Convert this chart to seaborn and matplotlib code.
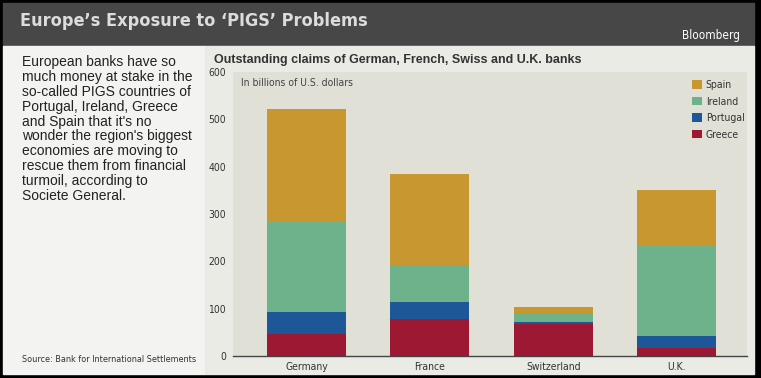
import matplotlib
matplotlib.use("Agg")
import matplotlib.pyplot as plt
from matplotlib.patches import Rectangle, Patch
from matplotlib import font_manager
import seaborn as sns
import pandas as pd

# data (billions of U.S. dollars)
countries = ["Germany", "France", "Switzerland", "U.K."]
greece = [46, 78, 67, 16]
portugal = [48, 37, 4, 26]
ireland = [189, 77, 18, 191]
spain = [239, 192, 14, 117]

series_names = ["Spain", "Ireland", "Portugal", "Greece"]
colors = {"Spain": "#c9972f", "Ireland": "#6db28b",
          "Portugal": "#1d5797", "Greece": "#9d1832"}

intro = ("European banks have so\nmuch money at stake in the\n"
         "so-called PIGS countries of\nPortugal, Ireland, Greece\n"
         "and Spain that it's no\nwonder the region's biggest\n"
         "economies are moving to\nrescue them from financial\n"
         "turmoil, according to\nSociete General.")

df = pd.DataFrame({"country": countries, "Greece": greece,
                   "Portugal": portugal, "Ireland": ireland, "Spain": spain})
# cumulative heights, drawn from the top layer down
df["Portugal_top"] = df["Greece"] + df["Portugal"]
df["Ireland_top"] = df["Portugal_top"] + df["Ireland"]
df["Spain_top"] = df["Ireland_top"] + df["Spain"]

sns.set_style("white")
names = {f.name for f in font_manager.fontManager.ttflist}
narrow = "Liberation Sans Narrow" if "Liberation Sans Narrow" in names else "DejaVu Sans"
plt.rcParams["font.family"] = ["Liberation Sans", "DejaVu Sans"]

W, H = 761, 378
def fx(x):
    return x / W
def fy(y):
    return 1 - y / H

fig = plt.figure(figsize=(W / 100, H / 100), dpi=100, facecolor="black")

# background panels
fig.add_artist(Rectangle((fx(3), fy(46)), fx(751), 43 / H, color="#474747", transform=fig.transFigure, zorder=0))
fig.add_artist(Rectangle((fx(3), fy(374)), fx(202), 328 / H, color="#f3f3f1", transform=fig.transFigure, zorder=0))
fig.add_artist(Rectangle((fx(205), fy(374)), fx(549), 328 / H, color="#ebebe5", transform=fig.transFigure, zorder=0))

ax = fig.add_axes([fx(233), fy(356), fx(747 - 233), (356 - 72) / H])
ax.set_facecolor("#e0e0d6")

for name, col in [("Spain", "Spain_top"), ("Ireland", "Ireland_top"),
                  ("Portugal", "Portugal_top"), ("Greece", "Greece")]:
    sns.barplot(data=df, x="country", y=col, color=colors[name], width=0.64,
                saturation=1, linewidth=0, ax=ax, zorder=2)

ax.set_xlim(-0.595, 3.567)
ax.set_ylim(0, 600)
ax.set_yticks(range(0, 601, 100))
ax.set_xlabel("")
ax.set_ylabel("")
for s in ["top", "right", "left"]:
    ax.spines[s].set_visible(False)
ax.spines["bottom"].set_color("#444444")
ax.spines["bottom"].set_linewidth(1)
ax.spines["bottom"].set_zorder(3)
ax.tick_params(length=0, labelsize=7.5, labelcolor="#333333")
ax.tick_params(axis="y", pad=5)
ax.tick_params(axis="x", pad=4)
for lab in ax.get_xticklabels() + ax.get_yticklabels():
    lab.set_family(narrow)
    lab.set_stretch("condensed")

ax.text(fx(241 - 233) / fx(747 - 233), 0.96, "In billions of U.S. dollars",
        transform=ax.transAxes, fontsize=7.5, color="#444444",
        family=narrow, stretch="condensed", va="center", ha="left")

handles = [Patch(facecolor=colors[n], edgecolor="none", label=n) for n in series_names]
leg = ax.legend(handles=handles, loc="upper left", bbox_to_anchor=(fx(687), fy(75)),
                bbox_transform=fig.transFigure, frameon=False, borderpad=0,
                handlelength=0.9, handleheight=0.9, handletextpad=0.4,
                labelspacing=0.62, prop={"family": narrow, "size": 7.5, "stretch": "condensed"})
for t in leg.get_texts():
    t.set_color("#333333")

# texts
fig.text(fx(20), fy(21), "Europe\u2019s Exposure to \u2018PIGS\u2019 Problems",
         fontsize=13, fontweight="heavy", color="#dcdcdc", family=narrow,
         stretch="condensed", va="center", ha="left")
fig.text(fx(740), fy(36), "Bloomberg", fontsize=8.5, color="white",
         family=narrow, stretch="condensed", va="center", ha="right")
fig.text(fx(214), fy(60), "Outstanding claims of German, French, Swiss and U.K. banks",
         fontsize=9, fontweight="bold", color="#333333", va="center", ha="left")
fig.text(fx(22), fy(55), intro, fontsize=10, color="#222222", va="top", ha="left",
         linespacing=1.08)
fig.text(fx(22), fy(360), "Source: Bank for International Settlements", fontsize=6.5,
         color="#333333", family=narrow, stretch="condensed", va="center", ha="left")

fig.savefig("out.png", dpi=100, facecolor=fig.get_facecolor())
